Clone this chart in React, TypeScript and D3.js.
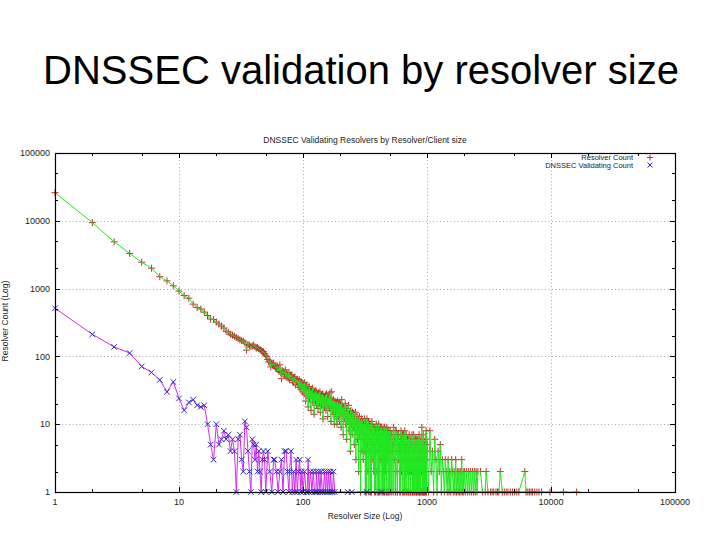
import React from "react";
import * as d3 from "d3";

// ---------- DATA ----------
const slideTitle = "DNSSEC validation by resolver size";
const chartTitle = "DNSSEC Validating Resolvers by Resolver/Client size";
const xAxisTitle = "Resolver Size (Log)";
const yAxisTitle = "Resolver Count (Log)";
const seriesNames = ["Resolver Count", "DNSSEC Validating Count"];
const majorTicks = [1, 10, 100, 1000, 10000, 100000];
const tickLabels = ["1", "10", "100", "1000", "10000", "100000"];
const minorMultipliers = [2, 5];

// Resolver Count: [resolver size, number of resolvers]
const resolverHead: [number, number][] = [
  [1, 26000], [2, 9400], [3, 4900], [4, 3300], [5, 2450], [6, 2000], [7, 1500], [8, 1300], [9, 1100], [10, 920],
  [11, 790], [12, 720], [13, 590], [14, 525], [15, 500], [16, 450], [17, 400], [18, 355], [19, 350], [20, 320],
  [21, 300], [22, 280], [23, 262], [24, 235], [25, 228], [26, 212], [27, 205], [28, 198], [29, 190], [30, 182],
  [31, 176], [32, 172], [33, 168], [34, 158], [35, 124], [36, 150], [37, 145], [38, 140], [39, 142], [40, 147],
  [41, 138], [42, 132], [43, 135], [44, 130], [45, 126], [46, 122], [47, 118], [48, 117], [49, 110], [50, 104],
  [51, 99], [52, 90], [53, 83], [54, 86], [55, 70], [56, 78], [57, 74], [58, 80], [59, 72], [60, 69],
];
const resolverMid: [number, number][] = [
  [61, 66], [62, 72], [63, 67], [64, 60], [65, 75], [66, 58], [67, 47], [68, 62], [69, 56], [70, 60],
  [71, 54], [72, 63], [73, 50], [74, 57], [75, 52], [76, 48], [77, 58], [78, 45], [79, 53], [80, 50],
  [81, 53], [82, 44], [83, 49], [84, 41], [85, 47], [86, 50], [87, 38], [88, 44], [89, 42], [90, 46],
  [91, 39], [92, 43], [93, 35], [94, 45], [95, 40], [96, 33], [97, 42], [98, 37], [99, 30], [100, 40],
  [101, 36], [102, 28], [103, 41], [104, 32], [105, 22], [106, 35], [107, 38], [108, 26], [109, 33], [110, 18],
  [111, 30], [112, 36], [113, 24], [114, 32], [115, 28], [116, 16], [117, 31], [118, 27], [119, 34], [120, 21],
  [121, 29], [122, 25], [123, 14], [124, 30], [125, 27], [126, 22], [127, 31], [128, 30], [129, 19], [130, 26],
  [131, 28], [132, 17], [133, 24], [134, 29], [135, 20], [136, 26], [137, 30], [138, 15], [139, 25], [140, 22],
  [141, 27], [142, 19], [143, 24], [144, 28], [145, 12], [146, 23], [147, 26], [148, 21], [149, 18], [150, 25],
  [151, 22], [152, 27], [153, 16], [154, 24], [155, 28], [156, 20], [157, 23], [158, 13], [159, 25], [160, 21],
  [161, 19], [162, 24], [163, 17], [164, 22], [165, 29], [166, 18], [167, 23], [168, 11], [169, 21], [170, 30],
  [171, 19], [172, 16], [173, 22], [174, 20], [175, 14], [176, 23], [177, 18], [178, 21], [179, 10], [180, 19],
  [181, 22], [182, 17], [183, 20], [184, 15], [185, 21], [186, 12], [187, 19], [188, 10], [189, 18], [190, 22],
  [191, 16], [192, 20], [193, 13], [194, 19], [195, 17], [196, 21], [197, 11], [198, 18], [199, 20], [200, 15],
];
const resolverNoisy: [number, number][] = [
  [201, 19], [203, 9], [205, 23], [207, 14], [209, 17], [211, 7], [213, 18], [215, 12], [217, 16], [219, 20],
  [221, 10], [223, 15], [225, 6], [227, 17], [229, 13], [231, 11], [233, 19], [235, 8], [237, 14], [239, 12],
  [241, 4], [243, 16], [245, 10], [247, 13], [249, 7], [251, 15], [253, 11], [255, 9], [257, 14], [259, 5],
  [261, 12], [263, 10], [265, 15], [267, 3], [269, 11], [271, 8], [273, 13], [275, 6], [277, 10], [279, 12],
  [281, 2], [283, 9], [285, 13], [287, 7], [289, 11], [291, 1], [293, 10], [295, 8], [297, 12], [299, 4],
  [302, 11], [306, 3], [310, 9], [314, 12], [318, 1], [322, 10], [326, 7], [330, 9], [334, 2], [338, 11],
  [342, 6], [346, 8], [350, 1], [354, 10], [358, 5], [362, 9], [366, 3], [370, 7], [374, 9], [378, 1],
  [382, 8], [386, 4], [390, 10], [394, 2], [398, 7], [402, 9], [406, 1], [410, 6], [414, 8], [418, 3],
  [422, 9], [426, 1], [430, 7], [434, 5], [438, 8], [442, 2], [446, 6], [450, 9], [454, 1], [458, 7],
  [462, 4], [466, 8], [470, 1], [474, 9], [478, 3], [482, 6], [486, 1], [490, 7], [494, 5], [498, 2],
  [505, 8], [512, 1], [519, 6], [526, 4], [533, 7], [540, 1], [547, 5], [554, 8], [561, 2], [568, 6],
  [575, 1], [582, 7], [589, 3], [596, 5], [603, 1], [610, 6], [617, 8], [624, 2], [631, 5], [638, 1],
  [645, 7], [652, 3], [659, 6], [666, 1], [673, 4], [680, 7], [687, 1], [694, 5], [701, 2], [708, 6],
  [715, 1], [722, 4], [729, 6], [736, 1], [743, 5], [750, 2], [757, 7], [764, 1], [771, 4], [778, 3],
  [785, 6], [792, 1], [799, 5], [806, 2], [813, 4], [820, 1], [827, 6], [834, 3], [841, 1], [848, 5],
  [855, 2], [862, 7], [869, 1], [876, 4], [883, 3], [890, 1], [897, 5], [904, 2], [911, 6], [918, 1],
  [925, 4], [932, 7], [939, 1], [946, 3], [953, 5], [960, 1], [967, 4], [974, 2], [981, 6], [988, 1], [995, 3],
];
const resolverNoisyExtra: [number, number][] = [
  [304, 6], [308, 10], [312, 4], [316, 11], [320, 7], [324, 1], [328, 12], [332, 5], [336, 9], [340, 1],
  [344, 10], [348, 4], [352, 8], [356, 1], [360, 11], [364, 6], [368, 9], [372, 2], [376, 8], [380, 5],
  [384, 1], [388, 9], [392, 6], [396, 1], [400, 8], [404, 4], [408, 10], [412, 1], [416, 7], [420, 5],
  [424, 8], [428, 3], [432, 9], [436, 1], [440, 6], [444, 8], [448, 1], [452, 5], [456, 9], [460, 2],
  [464, 6], [468, 1], [472, 7], [476, 5], [480, 8], [484, 1], [488, 4], [492, 8], [496, 1], [500, 6],
  [508, 4], [515, 7], [522, 1], [529, 5], [536, 9], [543, 3], [550, 6], [557, 1], [564, 8], [571, 4],
  [578, 1], [585, 5], [592, 7], [599, 2], [606, 4], [613, 1], [620, 6], [627, 3], [634, 7], [641, 1],
  [648, 5], [655, 1], [662, 8], [669, 2], [676, 5], [683, 3], [690, 1], [697, 6], [704, 4], [711, 1],
  [718, 7], [725, 2], [732, 5], [739, 1], [746, 6], [753, 3], [760, 1], [767, 5], [774, 1], [781, 7],
  [788, 2], [795, 4], [802, 1], [809, 6], [816, 3], [823, 1], [830, 5], [837, 2], [844, 6], [851, 1],
  [858, 4], [865, 3], [872, 1], [879, 6], [886, 2], [893, 1], [900, 4], [907, 9], [914, 1], [921, 3],
  [928, 5], [935, 1], [942, 6], [949, 2], [956, 1], [963, 5], [970, 1], [977, 3], [984, 8], [991, 1], [998, 4],
];
const resolverTail: [number, number][] = [
  [1005, 5], [1030, 1], [1055, 8], [1080, 2], [1105, 4], [1130, 1], [1155, 6], [1180, 3], [1205, 1], [1230, 4],
  [1255, 2], [1280, 5], [1305, 1], [1330, 3], [1355, 2], [1380, 1], [1405, 3], [1430, 2], [1455, 1], [1480, 3],
  [1505, 1], [1530, 2], [1555, 1], [1580, 3], [1605, 2], [1630, 1], [1655, 2], [1680, 1], [1705, 3], [1730, 1],
  [1755, 2], [1780, 1], [1805, 2], [1830, 1], [1855, 2], [1880, 1], [1905, 3], [1930, 1], [1955, 2], [1980, 1],
  [2010, 2], [2050, 1], [2090, 2], [2130, 1], [2170, 2], [2210, 1], [2250, 2], [2290, 1], [2330, 2], [2370, 1],
  [2410, 2], [2450, 1], [2490, 2], [2530, 1], [2570, 2],
  [2700, 2], [2800, 1], [2950, 1], [3000, 2], [3100, 1], [3250, 1], [3350, 1], [3450, 1], [3600, 1], [3700, 1],
  [3800, 1], [3900, 2], [4050, 1], [4200, 1], [4350, 1], [4500, 1], [4700, 1], [4900, 1], [5100, 1], [5300, 1],
  [5500, 1], [6150, 2], [6300, 1], [6500, 1], [6700, 1], [6900, 1], [7100, 1], [7400, 1], [7700, 1], [8000, 1],
  [8400, 1], [9800, 1], [12600, 1], [16100, 1],
];

// DNSSEC Validating Count: [resolver size, number of validating resolvers]
const validatingCounts: [number, number][] = [
  [1, 512], [2, 212], [3, 138], [4, 112], [5, 71], [6, 58], [7, 45], [8, 30], [9, 42], [10, 24],
  [11, 16], [12, 21], [13, 23], [14, 19], [15, 18], [16, 19], [17, 10], [18, 5], [19, 3], [20, 10],
  [21, 5], [22, 6], [23, 8], [24, 6], [25, 7], [26, 4], [27, 6], [28, 4], [29, 1], [30, 6],
  [31, 7], [32, 3], [33, 2], [34, 11], [35, 9], [36, 4], [37, 2], [38, 1], [39, 6], [40, 5],
  [41, 3], [42, 5], [43, 2], [44, 4], [45, 2], [46, 1], [47, 3], [48, 4], [49, 3], [50, 1],
  [52, 4], [54, 2], [56, 1], [58, 3], [59, 3], [61, 2], [63, 1], [65, 2], [67, 3], [69, 1],
  [71, 4], [73, 4], [75, 2], [77, 1], [78, 2], [80, 4], [82, 1], [84, 2], [86, 1], [88, 3],
  [90, 1], [92, 2], [94, 3], [96, 1], [98, 2], [100, 1], [103, 2], [106, 1], [108, 1], [110, 3],
  [112, 1], [115, 2], [118, 1], [121, 2], [124, 1], [127, 1], [128, 2], [131, 1], [134, 2], [137, 1],
  [140, 2], [143, 1], [146, 1], [149, 2], [152, 1], [155, 2], [158, 1], [161, 2], [164, 1], [167, 2],
  [170, 1], [173, 1], [176, 2], [180, 1],
];
const validatingIsolated: [number, number][] = [[230, 1], [247, 1], [326, 1], [430, 1]];

// ---------- LAYOUT ----------
const W = 720;
const H = 540;
const plot = { left: 55, right: 675, top: 153, bottom: 492 };
const FONT = "'Liberation Sans', Arial, Helvetica, sans-serif";

const xScale = d3.scaleLog().domain([1, 100000]).range([plot.left, plot.right]);
const yScale = d3.scaleLog().domain([1, 100000]).range([plot.bottom, plot.top]);

const plusPath = (pts: [number, number][], r: number) =>
  pts
    .map(([a, b]) => {
      const px = xScale(a);
      const py = yScale(b);
      return `M${px - r},${py}h${2 * r}M${px},${py - r}v${2 * r}`;
    })
    .join("");
const crossPath = (pts: [number, number][], r: number) =>
  pts
    .map(([a, b]) => {
      const px = xScale(a);
      const py = yScale(b);
      return `M${px - r},${py - r}l${2 * r},${2 * r}M${px - r},${py + r}l${2 * r},${-2 * r}`;
    })
    .join("");

export default function App() {
  const resolverAll = [...resolverHead, ...resolverMid, ...resolverNoisy, ...resolverNoisyExtra, ...resolverTail].sort(
    (a, b) => a[0] - b[0]
  );
  const validatingAll = [...validatingCounts, ...validatingIsolated];
  const line = d3
    .line<[number, number]>()
    .x((d) => xScale(d[0]))
    .y((d) => yScale(d[1]));

  const minorTicks: number[] = [];
  majorTicks.slice(0, -1).forEach((m) => minorMultipliers.forEach((k) => minorTicks.push(m * k)));

  const gridVals = majorTicks.slice(1, -1);

  return (
    <svg
      width={W}
      height={H}
      viewBox={`0 0 ${W} ${H}`}
      style={{ position: "absolute", left: 0, top: 0, background: "#ffffff" }}
    >
      <rect x={0} y={0} width={W} height={H} fill="#ffffff" />
      <text x={361} y={84} textAnchor="middle" fontFamily={FONT} fontSize={40} fill="#000">
        {slideTitle}
      </text>

      {/* grid */}
      <g stroke="#a8a8a8" strokeWidth={1} strokeDasharray="1 2.5">
        {gridVals.map((v) => (
          <line key={"gx" + v} x1={Math.round(xScale(v)) + 0.5} x2={Math.round(xScale(v)) + 0.5} y1={plot.top} y2={plot.bottom} />
        ))}
        {gridVals.map((v) => (
          <line key={"gy" + v} x1={plot.left} x2={plot.right} y1={Math.round(yScale(v)) + 0.5} y2={Math.round(yScale(v)) + 0.5} />
        ))}
      </g>

      {/* chart title */}
      <text x={365} y={143} textAnchor="middle" fontFamily={FONT} fontSize={8.5} fill="#222">
        {chartTitle}
      </text>

      {/* series */}
      <path d={plusPath(resolverAll, 3.5)} stroke="#b8342a" strokeWidth={1} fill="none" />
      <path d={line(resolverAll) || ""} stroke="#1ee81e" strokeWidth={1} fill="none" />
      <path d={line(validatingAll) || ""} stroke="#d22af0" strokeWidth={1} fill="none" />
      <path d={crossPath(validatingAll, 2.8)} stroke="#2a2ac8" strokeWidth={1} fill="none" />

      {/* border */}
      <rect
        x={plot.left + 0.5}
        y={plot.top + 0.5}
        width={plot.right - plot.left}
        height={plot.bottom - plot.top}
        fill="none"
        stroke="#000"
        strokeWidth={1.2}
      />

      {/* ticks */}
      <g stroke="#000" strokeWidth={1}>
        {majorTicks.map((v) => {
          const px = Math.round(xScale(v)) + 0.5;
          const py = Math.round(yScale(v)) + 0.5;
          return (
            <g key={"mt" + v}>
              <line x1={px} x2={px} y1={plot.bottom} y2={plot.bottom - 5} />
              <line x1={px} x2={px} y1={plot.top} y2={plot.top + 5} />
              <line x1={plot.left} x2={plot.left + 5} y1={py} y2={py} />
              <line x1={plot.right} x2={plot.right - 5} y1={py} y2={py} />
            </g>
          );
        })}
        {minorTicks.map((v) => {
          const px = Math.round(xScale(v)) + 0.5;
          const py = Math.round(yScale(v)) + 0.5;
          return (
            <g key={"nt" + v}>
              <line x1={px} x2={px} y1={plot.bottom} y2={plot.bottom - 3} />
              <line x1={px} x2={px} y1={plot.top} y2={plot.top + 3} />
              <line x1={plot.left} x2={plot.left + 3} y1={py} y2={py} />
              <line x1={plot.right} x2={plot.right - 3} y1={py} y2={py} />
            </g>
          );
        })}
      </g>

      {/* tick labels */}
      <g fontFamily={FONT} fontSize={9} fill="#222">
        {majorTicks.map((v, i) => (
          <text key={"yl" + v} x={50} y={yScale(v) + 3.2} textAnchor="end">
            {tickLabels[i]}
          </text>
        ))}
        {majorTicks.map((v, i) => (
          <text key={"xl" + v} x={xScale(v)} y={505} textAnchor="middle">
            {tickLabels[i]}
          </text>
        ))}
      </g>

      {/* axis titles */}
      <text x={365} y={519} textAnchor="middle" fontFamily={FONT} fontSize={8.5} fill="#222">
        {xAxisTitle}
      </text>
      <text
        transform={`translate(8,321) rotate(-90)`}
        textAnchor="middle"
        fontFamily={FONT}
        fontSize={8.5}
        fill="#222"
      >
        {yAxisTitle}
      </text>

      {/* legend */}
      <g fontFamily={FONT} fontSize={7.5} fill="#222">
        <text x={633} y={160} textAnchor="end">
          {seriesNames[0]}
        </text>
        <text x={633} y={168} textAnchor="end">
          {seriesNames[1]}
        </text>
      </g>
      <path d="M647,157.5h6M650,154.5v6" stroke="#b8342a" strokeWidth={1} fill="none" />
      <path d="M647.5,162.5l5,5M647.5,167.5l5,-5" stroke="#2a2ac8" strokeWidth={1} fill="none" />
    </svg>
  );
}
